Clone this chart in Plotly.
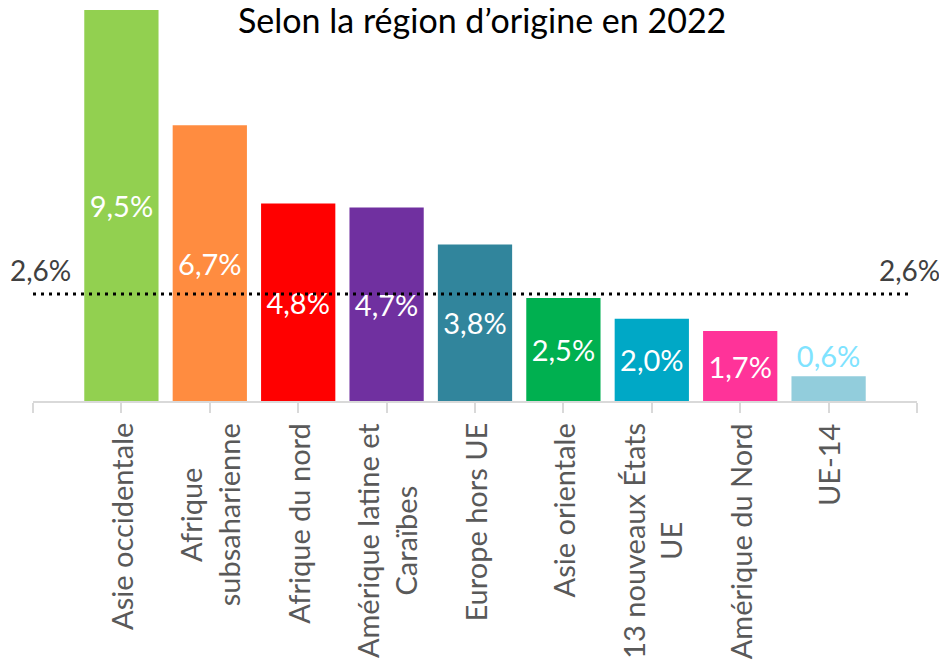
import plotly.graph_objects as go

categories = ["Asie occidentale", "Afrique<br>subsaharienne", "Afrique du nord",
              "Amérique latine et<br>Caraïbes", "Europe hors UE", "Asie orientale",
              "13 nouveaux États<br>UE", "Amérique du Nord", "UE-14"]
values = [9.5, 6.7, 4.8, 4.7, 3.8, 2.5, 2.0, 1.7, 0.6]
colors = ["#92D050", "#FF8C40", "#FF0000", "#7030A0", "#31859C", "#00B050",
          "#00A8C6", "#FF3399", "#92CDDC"]
average = 2.6
title_text = "Selon la région d’origine en 2022"

FONT = "Lato"
# the page body adds an 8px offset; the figure is sized to compensate
W, H = 939, 656

def fmt(v):
    return f"{v:.1f}".replace(".", ",") + "%"

xs = list(range(len(categories)))
textpos = ["inside" if v >= 1 else "outside" for v in values]
textcol = ["white" if v >= 1 else "#7FE3FF" for v in values]

fig = go.Figure()
fig.add_trace(go.Bar(
    x=xs, y=values, width=0.84,
    marker=dict(color=colors, line=dict(width=0)),
    text=[fmt(v) for v in values],
    textposition=textpos,
    insidetextanchor="middle",
    textfont=dict(family=FONT, size=29, color=textcol),
    constraintext="none",
    cliponaxis=False,
    hoverinfo="skip",
))

fig.add_shape(type="line", xref="x", yref="y", x0=-1, x1=8.93, y0=average, y1=average,
              line=dict(color="black", width=3, dash="3px,5px"))

annotations = []
for i, c in enumerate(categories):
    annotations.append(dict(
        x=i, xref="x", y=0, yref="paper", text=c, showarrow=False,
        textangle=-90, xanchor="center", yanchor="top", yshift=-20, align="center",
        font=dict(family=FONT, size=29, color="#595959")))
for px in (0.009, 0.992):
    annotations.append(dict(
        x=px, xref="paper", y=average, yref="y", text=fmt(average), showarrow=False,
        xanchor="center", yanchor="middle", yshift=24,
        font=dict(family=FONT, size=28, color="#404040")))

fig.update_layout(
    width=W, height=H,
    margin=dict(l=25, r=30, t=2, b=263),
    paper_bgcolor="white", plot_bgcolor="white",
    showlegend=False,
    title=dict(text=title_text, x=0.505, xanchor="center", y=1, yref="container",
               yanchor="top", pad=dict(t=1),
               font=dict(family=FONT, size=34, color="black")),
    xaxis=dict(range=[-1, 9], tickvals=list(range(-1, 10)), ticktext=[""] * 11,
               ticks="outside", ticklen=10, tickwidth=1.5, tickcolor="#D9D9D9",
               showline=True, linecolor="#D9D9D9", linewidth=1.5,
               showgrid=False, zeroline=False, fixedrange=True),
    yaxis=dict(range=[0, 9.5], visible=False, showgrid=False, zeroline=False),
    annotations=annotations,
)

fig.write_html("out.html")
